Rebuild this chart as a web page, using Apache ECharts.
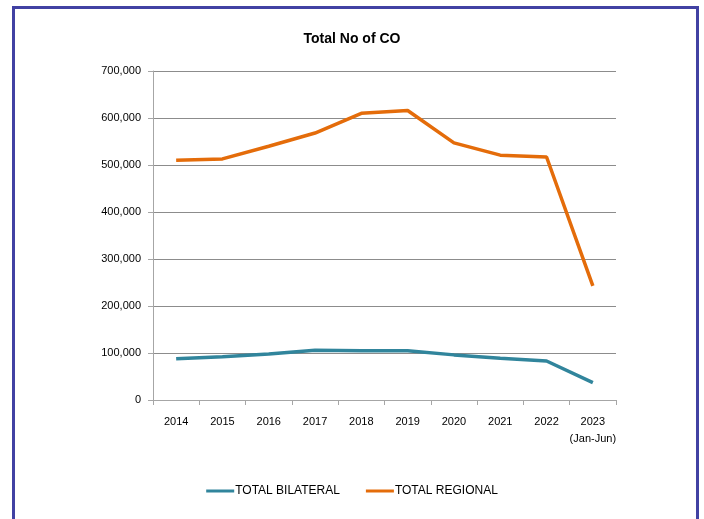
<!DOCTYPE html>
<html>
<head>
<meta charset="utf-8">
<script src="https://cdn.jsdelivr.net/npm/echarts@6/dist/echarts.min.js"></script>
<style>
  html, body { margin: 0; padding: 0; background: #fff; }
  #frame { position: absolute; left: 12px; top: 6px; width: 687px; height: 530px; border: 3px solid #4141a3; box-sizing: border-box; }
  #chart { position: absolute; left: 0; top: 0; width: 704px; height: 519px; }
</style>
</head>
<body>
<div id="frame"></div>
<div id="chart"></div>
<script>
// Certificates of origin issued per year
const years = ['2014', '2015', '2016', '2017', '2018', '2019', '2020', '2021', '2022', '2023\n(Jan-Jun)'];
const totalBilateral = [88000, 92000, 98000, 106000, 105000, 105000, 96000, 89000, 83000, 37000];
const totalRegional = [510000, 513000, 540000, 568000, 610000, 616000, 547000, 521000, 517000, 243000];
const yTicks = { min: 0, max: 700000, step: 100000 };

const fontFamily = '"Liberation Sans", Arial, sans-serif';

const chart = echarts.init(document.getElementById('chart'), null, { renderer: 'canvas' });
chart.setOption({
  backgroundColor: 'transparent',
  animation: false,
  title: {
    text: 'Total No of CO',
    left: 'center',
    top: 27,
    textStyle: { fontFamily: fontFamily, fontWeight: 'bold', fontSize: 14, color: '#000' }
  },
  grid: { left: 153, right: 88, top: 71, bottom: 119, containLabel: false },
  legend: {
    bottom: 17,
    left: 'center',
    itemWidth: 28,
    itemHeight: 3,
    itemGap: 26,
    icon: 'rect',
    textStyle: { fontFamily: fontFamily, fontSize: 12, color: '#000', padding: [0, 0, 0, -4] },
    data: ['TOTAL BILATERAL', 'TOTAL REGIONAL']
  },
  xAxis: {
    type: 'category',
    data: years,
    boundaryGap: true,
    axisLine: { lineStyle: { color: '#a6a6a6', width: 1 } },
    axisTick: { show: true, alignWithLabel: false, interval: 0, length: 5, lineStyle: { color: '#a6a6a6' } },
    axisLabel: { interval: 0, fontFamily: fontFamily, fontSize: 11, color: '#000', margin: 13, lineHeight: 17 }
  },
  yAxis: {
    type: 'value',
    min: yTicks.min,
    max: yTicks.max,
    interval: yTicks.step,
    axisLine: { show: true, lineStyle: { color: '#a6a6a6', width: 1 } },
    axisTick: { show: true, length: 5, lineStyle: { color: '#a6a6a6' } },
    splitLine: { show: true, lineStyle: { color: '#8c8c8c', width: 1 } },
    axisLabel: {
      fontFamily: fontFamily, fontSize: 11, color: '#000', margin: 12,
      formatter: v => v.toLocaleString('en-US')
    }
  },
  series: [
    {
      name: 'TOTAL BILATERAL',
      type: 'line',
      data: totalBilateral,
      symbol: 'none',
      color: '#31859c',
      lineStyle: { width: 3.5, color: '#31859c' }
    },
    {
      name: 'TOTAL REGIONAL',
      type: 'line',
      data: totalRegional,
      symbol: 'none',
      color: '#e46c0a',
      lineStyle: { width: 3.5, color: '#e46c0a' }
    }
  ]
});
</script>
</body>
</html>
